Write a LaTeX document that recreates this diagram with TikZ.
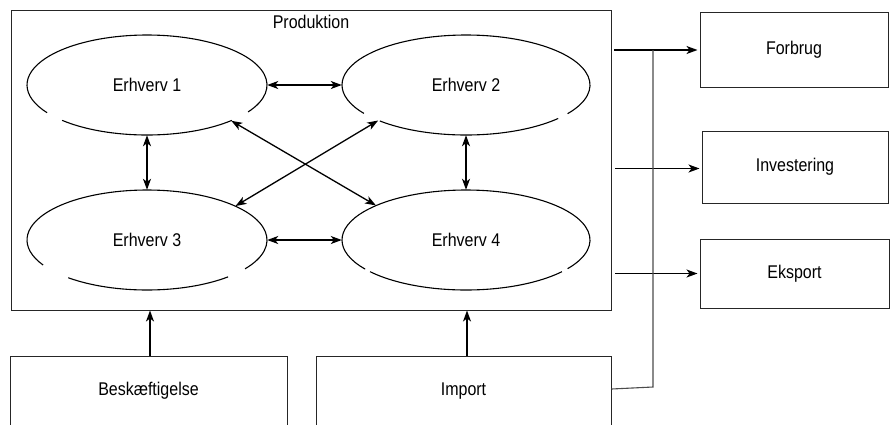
\documentclass[tikz,border=0pt]{standalone}
\usepackage{fontspec}
\usepackage{graphicx}
\setmainfont{Liberation Sans}
\usetikzlibrary{arrows.meta,shapes.geometric}
\newcommand{\tallt}[1]{\scalebox{1}[1.15]{#1}}
\begin{document}
\begin{tikzpicture}[x=1pt,y=1pt,
  every node/.style={font=\fontsize{16}{19}\selectfont, inner sep=0pt},
  boxnode/.style={draw=black!85, line width=1pt, rectangle},
  ellnode/.style={ellipse, inner sep=0pt},
  ellline/.style={line width=1.1pt, black},
  arr/.style={line width=1.3pt, -{Stealth[length=11pt,width=8pt,inset=3pt]}},
  dbl/.style={line width=1.3pt, {Stealth[length=11pt,width=8pt,inset=3pt]}-{Stealth[length=11pt,width=8pt,inset=3pt]}},
  gline/.style={line width=1.1pt, black!70}
]
\useasboundingbox (0,0) rectangle (890,-424);
\fill[white] (0,0) rectangle (890,-424);

% Production frame
\node[boxnode, minimum width=600pt, minimum height=300pt] (prod) at (311,-160) {};
\node (prodlabel) at (311,-22) {\tallt{Produktion}};

% Ellipses (text nodes; outlines drawn as arcs with gaps)
\node[ellnode, minimum width=240pt, minimum height=100pt] (e1) at (147,-85) {\tallt{Erhverv 1}};
\node[ellnode, minimum width=248pt, minimum height=100pt] (e2) at (466,-85) {\tallt{Erhverv 2}};
\node[ellnode, minimum width=240pt, minimum height=100pt] (e3) at (147,-240) {\tallt{Erhverv 3}};
\node[ellnode, minimum width=248pt, minimum height=100pt] (e4) at (466,-240) {\tallt{Erhverv 4}};

\draw[ellline] (e1.center) ++(327.4:120 and 50) arc[start angle=327.4, end angle=573.6, x radius=120, y radius=50];
\draw[ellline] (e1.center) ++(225:120 and 50) arc[start angle=225, end angle=315, x radius=120, y radius=50];
\draw[ellline] (e2.center) ++(325:124 and 50) arc[start angle=325, end angle=574.6, x radius=124, y radius=50];
\draw[ellline] (e2.center) ++(226:124 and 50) arc[start angle=226, end angle=318, x radius=124, y radius=50];
\draw[ellline] (e3.center) ++(324.8:120 and 50) arc[start angle=324.8, end angle=570, x radius=120, y radius=50];
\draw[ellline] (e3.center) ++(229:120 and 50) arc[start angle=229, end angle=312.5, x radius=120, y radius=50];
\draw[ellline] (e4.center) ++(325:124 and 50) arc[start angle=325, end angle=575.6, x radius=124, y radius=50];
\draw[ellline] (e4.center) ++(219.3:124 and 50) arc[start angle=219.3, end angle=320.7, x radius=124, y radius=50];

% Arrows between Erhverv
\draw[dbl] (e1.east) -- (e2.west);
\draw[dbl] (e3.east) -- (e4.west);
\draw[dbl] (e1.south) -- (e3.north);
\draw[dbl] (e2.south) -- (e4.north);
\draw[dbl] (e1.-23) -- (e4.159);
\draw[dbl] (e3.21) -- (e2.202);

% Right boxes
\node[boxnode, minimum width=188pt, minimum height=75pt] (forbrug) at (794,-49.5) {\tallt{Forbrug}};
\node[boxnode, minimum width=186pt, minimum height=72pt] (invest) at (795,-167) {\tallt{Investering}};
\node[boxnode, minimum width=189pt, minimum height=69pt] (eksport) at (794.5,-273.5) {\tallt{Eksport}};

\coordinate (fa) at (614,-50);
\coordinate (ia) at (615,-168.5);
\coordinate (xa) at (615,-273.5);
\draw[arr, shorten >=2pt] (fa) -- (forbrug.west |- fa);
\draw[arr, shorten >=2pt] (ia) -- (invest.west |- ia);
\draw[arr, shorten >=2pt] (xa) -- (eksport.west |- xa);

% Bottom boxes
\node[boxnode, minimum width=277pt, minimum height=70pt] (besk) at (148.5,-391) {\tallt{Beskæftigelse}};
\node[boxnode, minimum width=295pt, minimum height=70pt] (import) at (463.5,-391) {\tallt{Import}};

\draw[arr] ([xshift=1.5pt]besk.north) -- ([xshift=1.5pt]besk.north |- prod.south);
\draw[arr] ([xshift=3.5pt]import.north) -- ([xshift=3.5pt]import.north |- prod.south);

% Import feed line
\coordinate (jtop) at (653,-50);
\coordinate (jbot) at (653,-387);
\draw[gline] ([yshift=2pt]import.east) -- (jbot) -- (jtop);
\end{tikzpicture}
\end{document}
